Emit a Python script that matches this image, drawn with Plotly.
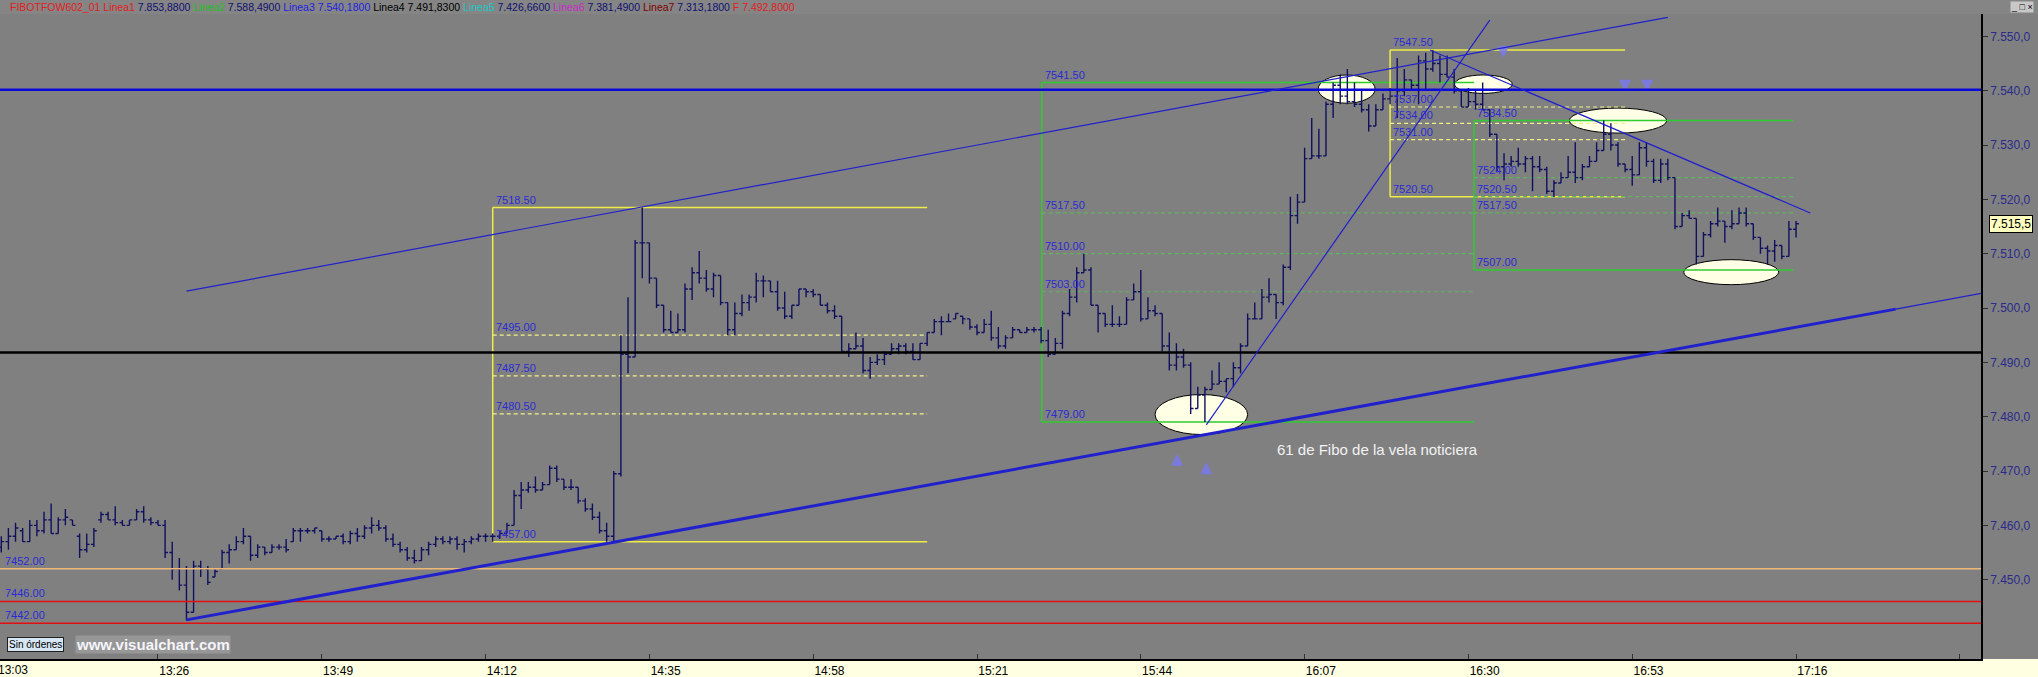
import plotly.graph_objects as go
import pandas as pd

BASE = pd.Timestamp("2009-01-01")


def T(hm):
    h, m = hm.split(":")
    ts = BASE + pd.Timedelta(minutes=int(h) * 60 + float(m))
    return ts.strftime("%Y-%m-%d %H:%M:%S.%f")[:-3]


def tshift(hm, dm):
    h, m = hm.split(":")
    ts = BASE + pd.Timedelta(minutes=int(h) * 60 + float(m) + dm)
    return ts.strftime("%Y-%m-%d %H:%M:%S.%f")[:-3]


# ---------------- one-minute OHLC bars, 13:04 .. 17:16 ----------------
FIRST_BAR = "13:04"
opens = [
    7456, 7457, 7458, 7459, 7457, 7460, 7459, 7461, 7458.5, 7461,
    7461, 7458, 7455.5, 7456.5, 7461, 7462, 7461, 7460.5, 7460, 7461,
    7462.5, 7461, 7460.5, 7460, 7455, 7452, 7449, 7444, 7452.5, 7452,
    7450.5, 7452, 7455, 7455.5, 7457, 7458, 7454.5, 7456, 7455, 7456,
    7456, 7457, 7459, 7459, 7459, 7459, 7457.5, 7457.5, 7458, 7457,
    7458.5, 7458, 7459.5, 7460, 7459.5, 7457.5, 7456.5, 7455.5, 7454, 7453.5,
    7455.5, 7456.5, 7457.5, 7457, 7457.5, 7456.5, 7457, 7457.5, 7458, 7458,
    7458, 7458.5, 7460, 7465.5, 7466.5, 7467, 7466.5, 7467.5, 7470.5, 7468.5,
    7467, 7467, 7464.5, 7463, 7461.5, 7459, 7458, 7469.5, 7491.5, 7491,
    7512, 7512, 7505.5, 7500.5, 7496, 7495.5, 7496, 7503.5, 7506.5, 7505.5,
    7503.5, 7506, 7501, 7496, 7499, 7501, 7502, 7505, 7505, 7503,
    7500, 7498.5, 7500.5, 7503.5, 7503, 7502.5, 7500.5, 7499.5, 7498.5, 7492,
    7492.5, 7493, 7488.5, 7490, 7490.5, 7491.5, 7492.5, 7493, 7492, 7490.5,
    7493.5, 7495.5, 7497.5, 7497.5, 7498, 7498.5, 7498, 7496.5, 7495.5, 7497,
    7494.5, 7493, 7494.5, 7496, 7495.5, 7496, 7496, 7494, 7491.5, 7493.5,
    7499, 7502, 7506.5, 7507, 7500.5, 7499, 7497, 7497, 7497, 7501.5,
    7503, 7498, 7499.5, 7499, 7493, 7489.5, 7491, 7489.5, 7481.5, 7484,
    7485, 7486, 7486.5, 7487, 7489, 7493, 7498, 7498, 7502, 7502.5,
    7501, 7507.5, 7517, 7519.5, 7527.5, 7528, 7528, 7537.5, 7541, 7539,
    7538, 7537.5, 7536.5, 7533.5, 7536.5, 7538.5, 7539, 7540, 7542, 7541,
    7545.5, 7544, 7545, 7543, 7542.5, 7540, 7537, 7538, 7537.5, 7536.5,
    7532, 7526, 7526.5, 7527, 7526.5, 7527.5, 7526, 7525.5, 7521.5, 7523,
    7524, 7525, 7524, 7526, 7527, 7529, 7532, 7530, 7526.5, 7525.5,
    7524.5, 7529.5, 7527, 7523.5, 7526.5, 7524, 7515, 7517, 7516.5, 7509.5,
    7513.5, 7515.5, 7516, 7515, 7515.5, 7517.5, 7515.5, 7513, 7511, 7510.5,
    7511.5, 7509.5, 7514.5,
]
highs = [
    7458, 7459.5, 7460.5, 7459.5, 7461, 7461, 7462.5, 7464, 7461.5, 7463,
    7461, 7458.5, 7458.5, 7459.5, 7462.5, 7462.5, 7463.5, 7461, 7461, 7463,
    7463.5, 7461.5, 7461, 7461, 7457, 7454, 7452.5, 7453.5, 7453.5, 7452.5,
    7452, 7455.5, 7456.5, 7458, 7459.5, 7458, 7456.5, 7456, 7456.5, 7456.5,
    7457.5, 7459.5, 7459.5, 7459.5, 7459.5, 7459, 7458, 7458, 7458.5, 7459,
    7459.5, 7460, 7461.5, 7461, 7460, 7458.5, 7457, 7456, 7455.5, 7456,
    7457, 7458, 7458, 7458, 7458, 7457.5, 7458, 7458.5, 7458.5, 7458.5,
    7459, 7460.5, 7466.5, 7468, 7468, 7469, 7468, 7471, 7471, 7468.5,
    7468.5, 7467, 7465, 7464, 7462.5, 7460.5, 7470, 7495, 7502, 7512.5,
    7518.5, 7512, 7505.5, 7500.5, 7499.5, 7499, 7504.5, 7507.5, 7510.5, 7507,
    7506.5, 7506, 7501, 7501, 7502.5, 7502.5, 7506.5, 7506, 7505, 7505,
    7503, 7500.5, 7503.5, 7503.5, 7503.5, 7502.5, 7501, 7500.5, 7498.5, 7493.5,
    7495.5, 7494.5, 7491, 7491.5, 7492, 7493.5, 7493.5, 7493.5, 7493.5, 7493.5,
    7495.5, 7498, 7498.5, 7499, 7499, 7498.5, 7498, 7497, 7498, 7499.5,
    7496.5, 7495, 7496.5, 7496, 7496.5, 7496.5, 7496.5, 7496, 7494.5, 7499.5,
    7503.5, 7507.5, 7510, 7507.5, 7500.5, 7499, 7500.5, 7498.5, 7502, 7504.5,
    7507, 7502, 7500.5, 7499, 7495.5, 7493.5, 7492.5, 7490, 7485.5, 7485.5,
    7488.5, 7490, 7487, 7490, 7493.5, 7499, 7501, 7503.5, 7505.5, 7502.5,
    7508, 7520.5, 7521, 7529.5, 7535, 7533, 7538, 7541.5, 7543, 7544,
    7541.5, 7540, 7537.5, 7537.5, 7539.5, 7540.5, 7546, 7544, 7542, 7546.5,
    7547, 7547.5, 7546.5, 7546.5, 7544, 7540, 7540.5, 7540, 7541.5, 7536.5,
    7532, 7528.5, 7528, 7529.5, 7528, 7528, 7528, 7526, 7523.5, 7525,
    7528, 7530.5, 7526.5, 7528, 7530.5, 7534.5, 7534, 7530.5, 7526.5, 7528,
    7530.5, 7530.5, 7527.5, 7527.5, 7527.5, 7524, 7517.5, 7518, 7516.5, 7514,
    7516, 7518.5, 7516, 7518, 7518.5, 7518.5, 7515.5, 7513, 7511.5, 7512.5,
    7511.5, 7516, 7516,
]
lows = [
    7455, 7455.5, 7457, 7457, 7457, 7458, 7458.5, 7458.5, 7458.5, 7460,
    7460, 7454, 7455, 7456, 7460.5, 7461, 7460, 7460, 7460, 7461,
    7460.5, 7460, 7460, 7454, 7450, 7448, 7442.5, 7444, 7450.5, 7449,
    7450.5, 7452, 7453, 7455.5, 7456.5, 7453.5, 7454, 7454.5, 7455, 7455.5,
    7455, 7457, 7457, 7458.5, 7458.5, 7457, 7457, 7457.5, 7456.5, 7456.5,
    7457, 7457.5, 7458.5, 7459, 7457, 7456, 7455, 7453.5, 7453, 7453.5,
    7454.5, 7456, 7456.5, 7456.5, 7455.5, 7455, 7456.5, 7457, 7457, 7457,
    7457.5, 7458.5, 7460, 7463, 7466, 7466, 7466.5, 7467.5, 7468, 7466.5,
    7466.5, 7464, 7462.5, 7461, 7458.5, 7457, 7457, 7469, 7488, 7491,
    7505.5, 7504.5, 7500, 7495.5, 7495.5, 7495.5, 7495.5, 7501.5, 7504.5, 7503,
    7502, 7500.5, 7495, 7495, 7498.5, 7499.5, 7501, 7502, 7503, 7499.5,
    7498, 7498, 7500.5, 7502, 7502, 7500.5, 7499, 7498, 7492, 7491,
    7492.5, 7488, 7487, 7489.5, 7489.5, 7491.5, 7491.5, 7491.5, 7490.5, 7490.5,
    7493, 7495.5, 7495, 7497.5, 7498, 7497, 7496, 7495, 7495.5, 7494,
    7492.5, 7492.5, 7494.5, 7495.5, 7495.5, 7495.5, 7493.5, 7491, 7491.5, 7492.5,
    7498.5, 7501, 7506.5, 7500.5, 7495.5, 7496.5, 7496.5, 7496.5, 7497, 7501.5,
    7497.5, 7498, 7498.5, 7492, 7488.5, 7488.5, 7489, 7480.5, 7481.5, 7479,
    7485, 7486, 7484.5, 7485.5, 7488, 7493, 7498, 7498, 7501, 7498,
    7500.5, 7507, 7515.5, 7519.5, 7527.5, 7527.5, 7528, 7535, 7537.5, 7537.5,
    7537, 7536, 7532.5, 7533.5, 7536.5, 7537.5, 7535, 7539, 7540, 7537.5,
    7540, 7543.5, 7541.5, 7542.5, 7539.5, 7537, 7537, 7536.5, 7536.5, 7531.5,
    7525, 7523.5, 7526, 7526, 7525, 7521.5, 7525, 7521, 7520.5, 7523,
    7524, 7523, 7523.5, 7526, 7527, 7529, 7529, 7526, 7525, 7522.5,
    7524.5, 7526, 7523, 7523, 7523.5, 7514.5, 7515, 7516.5, 7508, 7509.5,
    7513, 7515, 7512, 7514.5, 7515.5, 7515, 7512.5, 7510, 7508, 7508.5,
    7509, 7509.5, 7513,
]
closes = [
    7457, 7458, 7459.5, 7457, 7460, 7459, 7461, 7458.5, 7461, 7461.5,
    7460, 7455.5, 7456.5, 7459, 7462, 7461, 7460.5, 7460, 7461, 7462.5,
    7461, 7460.5, 7460, 7455, 7452, 7449, 7444, 7452.5, 7452, 7449.5,
    7451.5, 7455, 7455.5, 7457, 7458, 7454.5, 7456, 7455, 7456, 7456,
    7455.5, 7459, 7459, 7459, 7459.5, 7457.5, 7457.5, 7458, 7457, 7458.5,
    7458, 7459.5, 7460, 7459.5, 7457.5, 7456.5, 7455.5, 7454, 7453.5, 7455.5,
    7456.5, 7457.5, 7457, 7457.5, 7456.5, 7457, 7457.5, 7458, 7458, 7458,
    7458.5, 7460, 7465.5, 7466.5, 7467, 7466.5, 7467.5, 7470.5, 7468.5, 7467,
    7467, 7464.5, 7463, 7461.5, 7459, 7458, 7469.5, 7491.5, 7491, 7512,
    7512, 7505.5, 7500.5, 7496, 7495.5, 7496, 7503.5, 7506.5, 7505.5, 7503.5,
    7506, 7501, 7496, 7499, 7501, 7502, 7505, 7505, 7503, 7500,
    7498.5, 7500.5, 7503.5, 7503, 7502.5, 7500.5, 7499.5, 7498.5, 7492, 7492.5,
    7493, 7488.5, 7490, 7490.5, 7491.5, 7492.5, 7493, 7492, 7490.5, 7493.5,
    7495.5, 7497.5, 7497.5, 7497.5, 7499, 7498, 7496.5, 7495.5, 7497, 7494.5,
    7493, 7494.5, 7496, 7495.5, 7496, 7496, 7494, 7491.5, 7493.5, 7499,
    7502, 7506.5, 7507, 7500.5, 7499, 7497, 7497, 7497, 7501.5, 7503,
    7498, 7499.5, 7499, 7493, 7489.5, 7491, 7489.5, 7481.5, 7484, 7485,
    7486, 7486.5, 7487, 7489, 7493, 7498, 7498, 7502, 7502.5, 7501,
    7507.5, 7517, 7519.5, 7527.5, 7528, 7528, 7537.5, 7541, 7539, 7538,
    7537.5, 7536.5, 7533.5, 7536.5, 7538.5, 7539, 7540, 7542, 7541, 7545.5,
    7544, 7545, 7543, 7542.5, 7540, 7537, 7538, 7537.5, 7536.5, 7532,
    7526, 7526.5, 7527, 7526.5, 7527.5, 7526, 7525.5, 7521.5, 7523, 7524,
    7525, 7524, 7526, 7527, 7529, 7532, 7530, 7526.5, 7525.5, 7524.5,
    7529.5, 7527, 7523.5, 7526.5, 7524, 7515, 7517, 7516.5, 7509.5, 7513.5,
    7515.5, 7516, 7515, 7515.5, 7517.5, 7515.5, 7513, 7511, 7510.5, 7511.5,
    7509.5, 7514.5, 7515.5,
]
LAST_PRICE_LABEL = "7.515,5"

# ---------------- axes ----------------
x_range = ["13:03.82", "17:41.97"]
y_range = [7435.4, 7554.12]
x_tick_times = ["13:26", "13:49", "14:12", "14:35", "14:58", "15:21", "15:44",
                "16:07", "16:30", "16:53", "17:16", "17:39"]
x_tick_labels = ["13:26", "13:49", "14:12", "14:35", "14:58", "15:21", "15:44",
                 "16:07", "16:30", "16:53", "17:16", ""]
first_time_label = "13:03"
y_tick_values = [7450, 7460, 7470, 7480, 7490, 7500, 7510, 7520, 7530, 7540, 7550]
y_tick_labels = ["7.450,0", "7.460,0", "7.470,0", "7.480,0", "7.490,0", "7.500,0",
                 "7.510,0", "7.520,0", "7.530,0", "7.540,0", "7.550,0"]

# ---------------- drawn levels ----------------
hline_prices = [7540.18, 7491.83, 7452.0, 7446.0, 7442.0]
hline_colors = ["#0A0AD8", "#000000", "#F0B878", "#E01010", "#E01010"]
hline_widths = [2.5, 2.5, 1.5, 1.5, 1.5]
hline_labels = ["", "", "7452.00", "7446.00", "7442.00"]

# Fibonacci boxes: start/end time, top/bottom, inner levels
fib_start = ["14:13", "15:30.1", "16:19", "16:30.8"]
fib_end = ["15:14", "16:30.8", "16:52", "17:15.6"]
fib_top = [7518.5, 7541.5, 7547.5, 7534.5]
fib_bottom = [7457.0, 7479.0, 7520.5, 7507.0]
fib_levels = [[7495.0, 7487.5, 7480.5], [7517.5, 7510.0, 7503.0],
              [7537.0, 7534.0, 7531.0], [7524.0, 7520.5, 7517.5]]
fib_kind = ["yellow", "green", "yellow", "green"]

# trend lines (start time, start price, end time, end price)
trend_t0 = ["13:30", "13:30", "17:30", "15:53.2", "16:24.6"]
trend_p0 = [7503.1, 7442.6, 7499.8, 7478.5, 7547.5]
trend_t1 = ["16:58", "17:30", "17:42", "16:33", "17:18"]
trend_p1 = [7553.5, 7499.8, 7502.7, 7553.0, 7517.5]
trend_w = [1.2, 3.0, 1.2, 1.2, 1.2]

# ellipses: centre time, centre price, half width (min), half height (pts)
ell_t = ["16:12.9", "16:32.1", "16:51.0", "17:06.9", "15:52.5"]
ell_p = [7540.3, 7541.2, 7534.5, 7506.6, 7480.4]
ell_hw = [4.0, 4.05, 6.84, 6.67, 6.5]
ell_hh = [2.6, 1.7, 2.3, 2.3, 3.68]

# little arrow marks
arrow_t = ["15:49.1", "15:53.2", "16:34.9", "16:52.0", "16:55.1"]
arrow_p = [7473.2, 7471.6, 7546.0, 7539.8, 7539.8]
arrow_dir = ["arrow-up", "arrow-up", "arrow-down", "arrow-down", "arrow-down"]

note_text = "61 de Fibo de la vela noticiera"
note_t, note_p = "16:02.9", 7473.9

legend_parts = [
    ("FIBOTFOW602_01 Linea1", "#E02020"), (" 7.853,8800 ", "#101070"),
    ("Linea2", "#22C022"), (" 7.588,4900 ", "#101070"),
    ("Linea3 7.540,1800 ", "#1E1EE0"),
    ("Linea4 7.491,8300 ", "#000000"),
    ("Linea5", "#20C8C8"), (" 7.426,6600 ", "#101070"),
    ("Linea6", "#C828C8"), (" 7.381,4900 ", "#101070"),
    ("Linea7", "#800000"), (" 7.313,1800 ", "#101070"),
    ("F 7.492,8000", "#E02020"),
]

# ---------------- build figure ----------------
FONT = "Liberation Sans, Arial, sans-serif"
W, H = 2038, 677
ML, MR, MT, MB = 0, 57, 14, 18
PW, PH = W - ML - MR, H - MT - MB

t0 = BASE + pd.Timedelta(minutes=int(FIRST_BAR[:2]) * 60 + int(FIRST_BAR[3:]))
times = [(t0 + pd.Timedelta(minutes=i)).strftime("%Y-%m-%d %H:%M:%S") for i in range(len(closes))]

BAR = "#101060"
fig = go.Figure()
fig.add_trace(go.Ohlc(
    x=times, open=opens, high=highs, low=lows, close=closes,
    increasing=dict(line=dict(color=BAR, width=1.4)),
    decreasing=dict(line=dict(color=BAR, width=1.4)),
    tickwidth=0.4, showlegend=False, hoverinfo="skip",
))

fig.add_trace(go.Scatter(
    x=[T(t) for t in arrow_t], y=arrow_p, mode="markers",
    marker=dict(symbol=arrow_dir, size=12, color="rgba(120,120,245,0.8)",
                line=dict(width=0)),
    showlegend=False, hoverinfo="skip",
))

shapes = []
annotations = []

# strips (title bar and time-axis band)
shapes.append(dict(type="rect", xref="paper", yref="paper", x0=-0.01, x1=W / PW + 0.01,
                   y0=1, y1=1 + (MT + 2) / PH, fillcolor="#858585", line_width=0, layer="below"))
shapes.append(dict(type="rect", xref="paper", yref="paper", x0=-0.01, x1=W / PW + 0.01,
                   y0=-(MB + 2) / PH, y1=0, fillcolor="#FFFFE1", line_width=0, layer="below"))

# ellipses first (below everything else)
for t, p, hw, hh in zip(ell_t, ell_p, ell_hw, ell_hh):
    shapes.append(dict(type="circle", xref="x", yref="y", x0=tshift(t, -hw), x1=tshift(t, hw),
                       y0=p - hh, y1=p + hh, fillcolor="#FFFFE6",
                       line=dict(color="#000000", width=1), layer="below"))

# fib boxes
YEL, YEL_D, GRN, GRN_D, LBL = "#EDED45", "#F2F28A", "#2ECC2E", "#62B462", "#2B2BD6"
for s, e, top, bot, lv, kind in zip(fib_start, fib_end, fib_top, fib_bottom, fib_levels, fib_kind):
    solid = YEL if kind == "yellow" else GRN
    dash_c = YEL_D if kind == "yellow" else GRN_D
    for pr in (top, bot):
        shapes.append(dict(type="line", xref="x", yref="y", x0=T(s), x1=T(e), y0=pr, y1=pr,
                           line=dict(color=solid, width=1.5), layer="below"))
    shapes.append(dict(type="line", xref="x", yref="y", x0=T(s), x1=T(s), y0=bot, y1=top,
                       line=dict(color=solid, width=1.5), layer="below"))
    for pr in lv:
        shapes.append(dict(type="line", xref="x", yref="y", x0=T(s), x1=T(e), y0=pr, y1=pr,
                           line=dict(color=dash_c, width=1.2, dash="4px,3px"), layer="below"))
    for pr in [top] + lv + [bot]:
        annotations.append(dict(x=T(s), y=pr, xref="x", yref="y", text="%.2f" % pr,
                                showarrow=False, xanchor="left", yanchor="bottom",
                                xshift=1, yshift=0, font=dict(family=FONT, size=11, color=LBL)))

# full width horizontal lines
for pr, c, w, lab in zip(hline_prices, hline_colors, hline_widths, hline_labels):
    shapes.append(dict(type="line", xref="paper", yref="y", x0=0, x1=1, y0=pr, y1=pr,
                       line=dict(color=c, width=w), layer="above"))
    if lab:
        annotations.append(dict(x=0, y=pr, xref="paper", yref="y", text=lab, showarrow=False,
                                xanchor="left", yanchor="bottom", xshift=3,
                                font=dict(family=FONT, size=11, color=LBL)))

# trend lines
for a, pa, b, pb, w in zip(trend_t0, trend_p0, trend_t1, trend_p1, trend_w):
    shapes.append(dict(type="line", xref="x", yref="y", x0=T(a), x1=T(b), y0=pa, y1=pb,
                       line=dict(color="#2020CC", width=w), layer="above"))

# text note
annotations.append(dict(x=T(note_t), y=note_p, xref="x", yref="y", text=note_text,
                        showarrow=False, xanchor="left", yanchor="middle",
                        font=dict(family=FONT, size=15, color="#F2F2F2")))

# title/legend strip text
legend_html = "".join('<span style="color:%s">%s</span>' % (c, t.replace(" ", "&nbsp;"))
                      for t, c in legend_parts)
annotations.append(dict(x=8 / PW, y=1 + (MT / 2) / PH, xref="paper", yref="paper",
                        text=legend_html, showarrow=False, xanchor="left", yanchor="middle",
                        font=dict(family=FONT, size=10.5)))

# window buttons
annotations.append(dict(x=(W - 4) / PW, y=1 + (MT / 2) / PH, xref="paper", yref="paper",
                        text="_ \u25a1 \u00d7", showarrow=False, xanchor="right", yanchor="middle",
                        bgcolor="#C8C8C8", borderpad=0,
                        font=dict(family=FONT, size=9, color="#000000")))

# left-cut first time label (cut by the window edge as in the original)
annotations.append(dict(x=-4 / PW, y=0, xref="paper", yref="paper", text=first_time_label,
                        showarrow=False, xanchor="left", yanchor="top", yshift=-2,
                        font=dict(family=FONT, size=12, color="#000000")))

# last price tag on the price axis
annotations.append(dict(x=1, y=closes[-1], xref="paper", yref="y", text=LAST_PRICE_LABEL,
                        showarrow=False, xanchor="left", yanchor="middle", xshift=8,
                        bgcolor="#FFFFC0", bordercolor="#000000", borderwidth=1, borderpad=1,
                        font=dict(family=FONT, size=12, color="#000000")))

# "Sin órdenes" button and watermark
yb = (MT + PH - 644) / PH
annotations.append(dict(x=7 / PW, y=yb, xref="paper", yref="paper", text="Sin órdenes",
                        showarrow=False, xanchor="left", yanchor="middle", bgcolor="#D6E6F2",
                        bordercolor="#202020", borderwidth=1, borderpad=1,
                        font=dict(family=FONT, size=10, color="#000000")))
annotations.append(dict(x=75 / PW, y=yb, xref="paper", yref="paper",
                        text="<b>www.visualchart.com</b>", showarrow=False,
                        xanchor="left", yanchor="middle", bgcolor="rgba(255,255,255,0.18)",
                        borderpad=0,
                        font=dict(family=FONT, size=15, color="#F4F4FA")))

fig.update_layout(
    width=W, height=H,
    margin=dict(l=ML, r=MR, t=MT, b=MB, pad=0),
    paper_bgcolor="#808080", plot_bgcolor="#808080",
    shapes=shapes, annotations=annotations, showlegend=False,
    xaxis=dict(type="date", range=[T(x_range[0]), T(x_range[1])],
               tickvals=[T(t) for t in x_tick_times], ticktext=x_tick_labels,
               ticks="inside", ticklen=5, tickcolor="#303030", tickwidth=1,
               ticklabelposition="outside right",
               tickfont=dict(family=FONT, size=12, color="#000000"),
               showline=True, linecolor="#000000", linewidth=1.5,
               showgrid=False, zeroline=False, rangeslider=dict(visible=False),
               automargin=False, fixedrange=True),
    yaxis=dict(side="right", range=y_range, tickvals=y_tick_values, ticktext=y_tick_labels,
               ticks="outside", ticklen=5, tickcolor="#303030",
               tickfont=dict(family=FONT, size=12, color="#2A2A8C"),
               showline=True, linecolor="#000000", linewidth=1.5,
               showgrid=False, zeroline=False, automargin=False, fixedrange=True),
)

fig.write_html("out.html", config={"displayModeBar": False},
               post_script="document.body.style.margin='0';document.body.style.overflow='hidden';")
